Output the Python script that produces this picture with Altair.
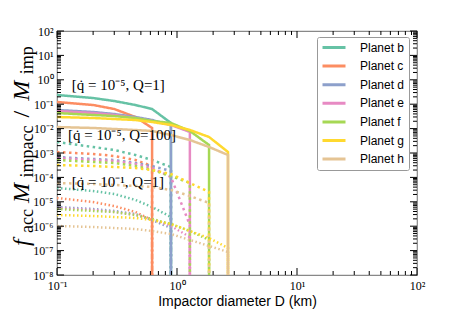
import altair as alt
import pandas as pd

planets = ["Planet b", "Planet c", "Planet d", "Planet e", "Planet f", "Planet g", "Planet h"]
colors = ["#66c2a5", "#fc8d62", "#8da0cb", "#e78ac3", "#a6d854", "#ffd92f", "#e5c494"]

# impactor diameters (km) at which curves were sampled
D_grid = [0.1, 0.2, 0.3, 0.45, 0.62, 0.89, 1.28, 1.85, 2.66]

# [qdot=1e-5, Q=1]  (solid)
solid_b = [0.238, 0.179, 0.135, 0.0927, 0.0635, 0.0170]
solid_c = [0.123, 0.0927, 0.0635, 0.0299, 0.0106]
solid_d = [0.0578, 0.0479, 0.0396, 0.0299, 0.0225, 0.0141]
solid_e = [0.0526, 0.0436, 0.0361, 0.0272, 0.0205, 0.0141, 0.00726]
solid_f = [0.0436, 0.0361, 0.0328, 0.0272, 0.0205, 0.0170, 0.00798, 0.00213]
solid_g = [0.0299, 0.0272, 0.0247, 0.0225, 0.0186, 0.0141, 0.00877, 0.00453, 0.00110]
solid_h = [0.0116, 0.0106, 0.00964, 0.00877, 0.00798, 0.00547, 0.00341, 0.00176, 0.000828]

# [qdot=1e-5, Q=100]  (dotted)
dot_b = [0.00282, 0.00176, 0.00133, 0.000828, 0.000516, 0.000267]
dot_c = [0.00110, 0.000910, 0.000753, 0.000516, 0.000293]
dot_d = [0.000685, 0.000568, 0.000516, 0.000389, 0.000293, 0.000183]
dot_e = [0.000623, 0.000516, 0.000470, 0.000354, 0.000243, 0.000104, 1.12e-6]
dot_f = [0.000516, 0.000428, 0.000389, 0.000293, 0.000201, 0.000114, 5.89e-5]
dot_g = [0.000322, 0.000293, 0.000267, 0.000243, 0.000201, 0.000138, 5.89e-5, 2.52e-5]
dot_h = [5.89e-5, 5.37e-5, 4.89e-5, 4.45e-5, 4.05e-5, 3.05e-5, 1.73e-5, 8.93e-6]

# [qdot=1e-1, Q=1]  (faint dotted)
faint_b = [3.68e-5, 2.77e-5, 2.09e-5, 1.19e-5, 6.12e-6, 2.38e-6]
faint_c = [1.43e-5, 9.82e-6, 6.73e-6, 3.82e-6, 1.79e-6]
faint_d = [6.12e-6, 5.07e-6, 4.20e-6, 3.16e-6, 1.79e-6, 8.43e-7]
faint_e = [5.57e-6, 4.61e-6, 3.82e-6, 2.88e-6, 1.97e-6, 1.02e-6, 3.60e-7]
faint_f = [5.07e-6, 4.20e-6, 3.82e-6, 2.88e-6, 1.97e-6, 1.23e-6, 6.35e-7, 2.72e-7]
faint_g = [2.88e-6, 2.62e-6, 2.38e-6, 2.17e-6, 1.79e-6, 1.23e-6, 6.35e-7, 3.28e-7, 1.28e-7]
faint_h = [1.02e-6, 9.27e-7, 8.43e-7, 7.67e-7, 6.35e-7, 4.79e-7, 2.72e-7, 1.55e-7, 8.77e-8]

styles = ["qdot=1e-5, Q=1", "qdot=1e-5, Q=100", "qdot=1e-1, Q=1"]
series = {
    styles[0]: [solid_b, solid_c, solid_d, solid_e, solid_f, solid_g, solid_h],
    styles[1]: [dot_b, dot_c, dot_d, dot_e, dot_f, dot_g, dot_h],
    styles[2]: [faint_b, faint_c, faint_d, faint_e, faint_f, faint_g, faint_h],
}
ZERO = 1e-12  # beyond the cutoff the accreted mass is zero

rows = []
for pi, p in enumerate(planets):
    for s in styles:
        vals = series[s][pi]
        for i, v in enumerate(vals):
            rows.append({"D": D_grid[i], "v": v, "planet": p, "style": s, "idx": i})
        rows.append({"D": D_grid[len(vals) - 1], "v": ZERO, "planet": p, "style": s, "idx": len(vals)})
df = pd.DataFrame(rows)

ann_text = ["[q\u0307 = 10\u207b\u2075, Q=1]", "[q\u0307 = 10\u207b\u2075, Q=100]", "[q\u0307 = 10\u207b\u00b9, Q=1]"]
ann_D = [0.133, 0.1235, 0.133]
ann_v = [0.61, 0.0055, 6.5e-5]
ann = pd.DataFrame({"label": ann_text, "D": ann_D, "v": ann_v})

x_major = [0.1, 1, 10, 100]
x_exps = [-1, 0, 1, 2]
y_major = [1e-8, 1e-7, 1e-6, 1e-5, 1e-4, 1e-3, 1e-2, 1e-1, 1, 10, 100]
y_exps = list(range(-8, 3))
sup = {"-": "\u207b", "0": "\u2070", "1": "\u00b9", "2": "\u00b2", "3": "\u00b3", "4": "\u2074",
       "5": "\u2075", "6": "\u2076", "7": "\u2077", "8": "\u2078", "9": "\u2079"}


def lab(e):
    return "10" + "".join(sup[c] for c in str(e))


def label_expr(exps):
    expr = "''"
    for e in exps:
        expr = f"round(log(datum.value)/LN10) == {e} ? '{lab(e)}' : " + expr
    return expr


x_minor = [m * 10.0 ** k for k in (-1, 0, 1) for m in range(2, 10)]
y_minor = [m * 10.0 ** k for k in range(-8, 2) for m in range(2, 10)]

W, H = 360, 244
xscale = alt.Scale(type="log", domain=[0.1, 100], nice=False)
yscale = alt.Scale(type="log", domain=[1e-8, 100], nice=False)

xaxis = alt.Axis(values=x_major, labelExpr=label_expr(x_exps), ticks=False, domain=False,
                 grid=False, labelFont="Liberation Serif", labelFontSize=12, labelPadding=5,
                 labelFlush=False, labelOverlap=False, labelColor="black",
                 title="Impactor diameter D (km)", titleFont="Liberation Sans",
                 titleFontSize=14, titleFontWeight="normal", titlePadding=3,
                 titleColor="black")
yaxis = alt.Axis(values=y_major, labelExpr=label_expr(y_exps), ticks=False, domain=False,
                 grid=False, labelFont="Liberation Serif", labelFontSize=12, labelPadding=4,
                 labelFlush=False, labelOverlap=False, labelColor="black", title=None)

lines = alt.Chart(df).mark_line(clip=True).encode(
    x=alt.X("D:Q", scale=xscale, axis=xaxis),
    y=alt.Y("v:Q", scale=yscale, axis=yaxis),
    color=alt.Color("planet:N", scale=alt.Scale(domain=planets, range=colors),
                    legend=alt.Legend(title=None, orient="none", legendX=260, legendY=6,
                                      symbolType="stroke", symbolSize=529, symbolStrokeWidth=3,
                                      symbolOpacity=1, clipHeight=13, rowPadding=5.6, padding=4,
                                      labelFont="Liberation Sans", labelFontSize=12, labelOffset=13,
                                      labelColor="black", strokeColor="#999999", fillColor="white",
                                      cornerRadius=2)),
    strokeDash=alt.StrokeDash("style:N", scale=alt.Scale(domain=styles, range=[[1, 0], [2.5, 3.5], [1.5, 2.5]]),
                              legend=None),
    strokeWidth=alt.StrokeWidth("style:N", scale=alt.Scale(domain=styles, range=[2.5, 2.5, 1.5]), legend=None),
    opacity=alt.Opacity("style:N", scale=alt.Scale(domain=styles, range=[1, 1, 0.5]), legend=None),
    order="idx:Q",
)


def xticks(vals, length):
    d = pd.DataFrame({"D": vals})
    b = alt.Chart(d).mark_rule(color="black", strokeWidth=1).encode(
        x=alt.X("D:Q", scale=xscale, axis=xaxis), y=alt.value(H), y2=alt.value(H - length))
    t = alt.Chart(d).mark_rule(color="black", strokeWidth=1).encode(
        x=alt.X("D:Q", scale=xscale, axis=xaxis), y=alt.value(0), y2=alt.value(length))
    return [b, t]


def yticks(vals, length):
    d = pd.DataFrame({"v": vals})
    l = alt.Chart(d).mark_rule(color="black", strokeWidth=1).encode(
        y=alt.Y("v:Q", scale=yscale, axis=yaxis), x=alt.value(0), x2=alt.value(length))
    r = alt.Chart(d).mark_rule(color="black", strokeWidth=1).encode(
        y=alt.Y("v:Q", scale=yscale, axis=yaxis), x=alt.value(W), x2=alt.value(W - length))
    return [l, r]


tick_layers = xticks(x_major, 7) + xticks(x_minor, 4) + yticks(y_major, 7) + yticks(y_minor, 4)

annot = alt.Chart(ann).mark_text(align="left", baseline="middle", font="Liberation Serif",
                                 fontSize=15, color="black").encode(
    x=alt.X("D:Q", scale=xscale, axis=xaxis), y=alt.Y("v:Q", scale=yscale, axis=yaxis), text="label:N")

# y-axis title  f_acc M_impacc / M_imp  built from pieces (bottom to top)
title_pieces = [("f", "big"), ("acc", "small"), ("M", "big"), ("impacc", "small"),
                ("/", "bigr"), ("M", "big"), ("imp", "small")]
BIG, SMALL = 24, 18
wid = {"f": 0.33, "M": 0.86, "/": 0.36, "a": 0.444, "c": 0.444, "i": 0.278, "m": 0.778, "p": 0.5}
gaps = [5, 6, 5, 8, 8, 6, 0]
ypos = 215.0
title_layers = []
for (txt, kind), g in zip(title_pieces, gaps):
    size = SMALL if kind == "small" else BIG
    w = sum(wid[c] for c in txt) * size
    xb = -24 if kind == "small" else -28
    title_layers.append(
        alt.Chart(pd.DataFrame({"t": [txt]})).mark_text(
            align="left", baseline="alphabetic", angle=270, font="Liberation Serif", fontSize=size,
            fontStyle="italic" if kind == "big" else "normal", color="black").encode(
            x=alt.value(xb), y=alt.value(ypos), text="t:N"))
    ypos -= w + g

chart = alt.layer(lines, *tick_layers, annot, *title_layers).properties(
    width=W, height=H,
    autosize=alt.AutoSizeParams(type="none"),
    padding={"left": 49, "top": 23, "right": 38, "bottom": 36},
).configure_view(stroke="#888888", strokeWidth=1.2)

chart.save("out.html", embed_options={"renderer": "svg", "actions": False})
